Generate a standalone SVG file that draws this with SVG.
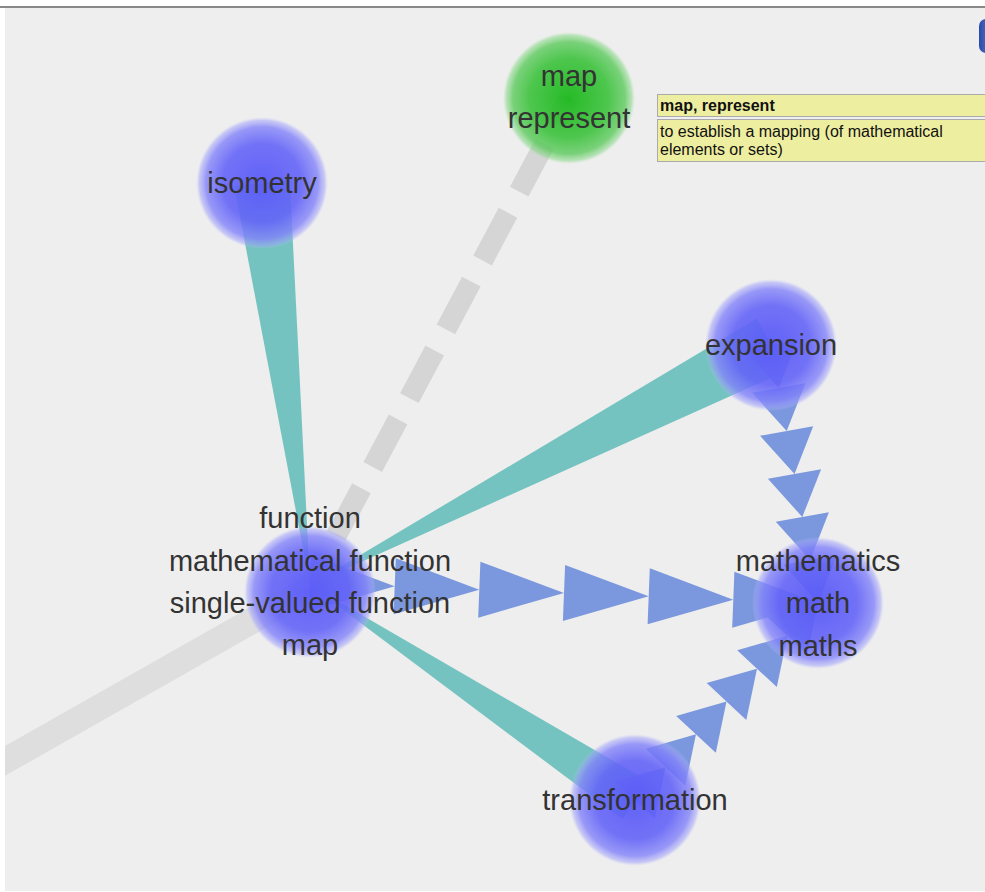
<svg xmlns="http://www.w3.org/2000/svg" width="985" height="892" viewBox="0 0 985 892">
<defs>
<radialGradient id="gBlue" cx="0.5" cy="0.5" r="0.5">
<stop offset="0" stop-color="#5a5af8" stop-opacity="0.95"/>
<stop offset="0.6" stop-color="#6464f8" stop-opacity="0.9"/>
<stop offset="0.85" stop-color="#8282fa" stop-opacity="0.8"/>
<stop offset="0.95" stop-color="#a0a0fc" stop-opacity="0.5"/>
<stop offset="1" stop-color="#c0c0ff" stop-opacity="0"/>
</radialGradient>
<radialGradient id="gGreen" cx="0.5" cy="0.5" r="0.5">
<stop offset="0" stop-color="#1cb81c" stop-opacity="0.95"/>
<stop offset="0.6" stop-color="#3cc23c" stop-opacity="0.9"/>
<stop offset="0.85" stop-color="#5cca5c" stop-opacity="0.8"/>
<stop offset="0.95" stop-color="#80d680" stop-opacity="0.5"/>
<stop offset="1" stop-color="#a0e0a0" stop-opacity="0"/>
</radialGradient>
<linearGradient id="gIcon" x1="0" y1="0" x2="1" y2="0">
<stop offset="0" stop-color="#2a4aa8"/>
<stop offset="1" stop-color="#7a9ae0"/>
</linearGradient>
<clipPath id="canvas"><rect x="5" y="8" width="980" height="883"/></clipPath>
</defs>
<style>
.lbl{font-family:"Liberation Sans",Arial,sans-serif;font-size:29px;fill:#333;text-anchor:middle}
.wedge{fill:#74c3c0}
.tri{fill:#7190dc;fill-opacity:0.92}
.tip{font-family:"Liberation Sans",Arial,sans-serif;font-size:16px;fill:#111}
</style>
<rect x="0" y="0" width="985" height="892" fill="#ffffff"/>
<rect x="5" y="8" width="980" height="883" fill="#eeeeee"/>
<rect x="0" y="6" width="985" height="2" fill="#888888"/>
<rect x="979" y="19" width="20" height="34" rx="7" fill="url(#gIcon)"/>

<g id="connectors" clip-path="url(#canvas)">
<line x1="310" y1="588" x2="-20" y2="775" stroke="#dedede" stroke-width="26"/>
<line x1="569" y1="98" x2="310" y2="585" stroke="#d5d5d5" stroke-width="21" stroke-dasharray="54 24" stroke-dashoffset="26"/>
<polygon class="wedge" points="310,585 289.8,179.7 234.2,186.3"/>
<polygon class="wedge" points="310,585 785.1,371.5 756.9,318.5"/>
<polygon class="wedge" points="310,585 622.5,819.3 647.5,780.7"/>
<g id="arrows">
<polygon class="tri" points="311.1,555 308.9,611 394.7,586.3"/>
<polygon class="tri" points="395.8,558.3 393.6,614.3 479.3,589.7"/>
<polygon class="tri" points="480.4,561.7 478.2,617.7 564,593"/>
<polygon class="tri" points="565.1,565 562.9,621 648.7,596.3"/>
<polygon class="tri" points="649.8,568.3 647.6,624.3 733.3,599.7"/>
<polygon class="tri" points="734.4,571.7 732.2,627.7 818,603"/>
<polygon class="tri" points="797.6,340.2 744.4,349.8 778.8,388"/>
<polygon class="tri" points="805.4,383.2 752.2,392.8 786.7,431"/>
<polygon class="tri" points="813.2,426.2 760.1,435.8 794.5,474"/>
<polygon class="tri" points="821.1,469.2 767.9,478.8 802.3,517"/>
<polygon class="tri" points="828.9,512.2 775.8,521.8 810.2,560"/>
<polygon class="tri" points="836.8,555.2 783.6,564.8 818,603"/>
<polygon class="tri" points="654.8,818.4 615.2,781.6 665.5,767.2"/>
<polygon class="tri" points="685.3,785.6 645.7,748.8 696,734.3"/>
<polygon class="tri" points="715.8,752.7 676.2,715.9 726.5,701.5"/>
<polygon class="tri" points="746.3,719.9 706.7,683.1 757,668.7"/>
<polygon class="tri" points="776.8,687.1 737.2,650.3 787.5,635.8"/>
<polygon class="tri" points="807.3,654.2 767.7,617.4 818,603"/>
</g>
</g>

<g id="node-isometry">
<circle cx="262" cy="183" r="66" fill="url(#gBlue)"/>
<text class="lbl" x="262" y="193">isometry</text>
</g>
<g id="node-map-represent">
<circle cx="569" cy="98" r="66" fill="url(#gGreen)"/>
<text class="lbl" x="569" y="86">map</text>
<text class="lbl" x="569" y="128">represent</text>
</g>
<g id="node-expansion">
<circle cx="771" cy="345" r="66" fill="url(#gBlue)"/>
<text class="lbl" x="771" y="355">expansion</text>
</g>
<g id="node-function">
<circle cx="310" cy="592" r="66" fill="url(#gBlue)"/>
<text class="lbl" x="310" y="528">function</text>
<text class="lbl" x="310" y="571">mathematical function</text>
<text class="lbl" x="310" y="613">single-valued function</text>
<text class="lbl" x="310" y="655">map</text>
</g>
<g id="node-mathematics">
<circle cx="818" cy="603" r="66" fill="url(#gBlue)"/>
<text class="lbl" x="818" y="571">mathematics</text>
<text class="lbl" x="818" y="613">math</text>
<text class="lbl" x="818" y="656">maths</text>
</g>
<g id="node-transformation">
<circle cx="635" cy="800" r="66" fill="url(#gBlue)"/>
<text class="lbl" x="635" y="810">transformation</text>
</g>

<g id="tooltip">
<rect x="657.5" y="94.5" width="340" height="22" fill="#eeeea0" stroke="#aaaaaa"/>
<rect x="657.5" y="119.5" width="340" height="42" fill="#eeeea0" stroke="#aaaaaa"/>
<text class="tip" x="660" y="111" font-weight="bold">map, represent</text>
<text class="tip" x="660" y="137">to establish a mapping (of mathematical</text>
<text class="tip" x="660" y="155">elements or sets)</text>
</g>
</svg>
